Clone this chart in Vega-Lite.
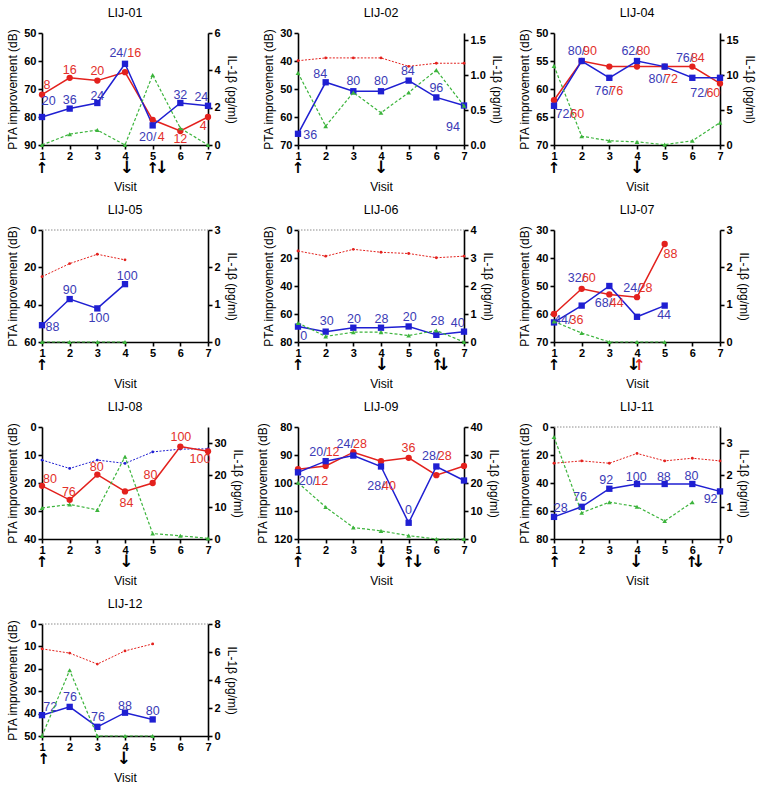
{
"$schema":"https://vega.github.io/schema/vega-lite/v6.json",
"background":"white",
"padding":{"left":6,"top":6,"right":5,"bottom":5},
"columns":3,
"spacing":{"row":85,"column":90},
"bounds":"flush",
"data":{"values":[
{"panel":"LIJ-01","kind":"pta","ear":"B","treated":"yes","visit":1,"pta":72},
{"panel":"LIJ-01","kind":"pta","ear":"B","treated":"yes","visit":2,"pta":66},
{"panel":"LIJ-01","kind":"pta","ear":"B","treated":"yes","visit":3,"pta":67},
{"panel":"LIJ-01","kind":"pta","ear":"B","treated":"yes","visit":4,"pta":64},
{"panel":"LIJ-01","kind":"pta","ear":"B","treated":"yes","visit":5,"pta":81},
{"panel":"LIJ-01","kind":"pta","ear":"B","treated":"yes","visit":6,"pta":85},
{"panel":"LIJ-01","kind":"pta","ear":"B","treated":"yes","visit":7,"pta":80},
{"panel":"LIJ-01","kind":"pta","ear":"A","treated":"yes","visit":1,"pta":80},
{"panel":"LIJ-01","kind":"pta","ear":"A","treated":"yes","visit":2,"pta":77},
{"panel":"LIJ-01","kind":"pta","ear":"A","treated":"yes","visit":3,"pta":75},
{"panel":"LIJ-01","kind":"pta","ear":"A","treated":"yes","visit":4,"pta":61},
{"panel":"LIJ-01","kind":"pta","ear":"A","treated":"yes","visit":5,"pta":83},
{"panel":"LIJ-01","kind":"pta","ear":"A","treated":"yes","visit":6,"pta":75},
{"panel":"LIJ-01","kind":"pta","ear":"A","treated":"yes","visit":7,"pta":76},
{"panel":"LIJ-01","kind":"il","visit":1,"il":0},
{"panel":"LIJ-01","kind":"il","visit":2,"il":0.58},
{"panel":"LIJ-01","kind":"il","visit":3,"il":0.8},
{"panel":"LIJ-01","kind":"il","visit":4,"il":0},
{"panel":"LIJ-01","kind":"il","visit":5,"il":3.75},
{"panel":"LIJ-01","kind":"il","visit":6,"il":0.9},
{"panel":"LIJ-01","kind":"il","visit":7,"il":0},
{"panel":"LIJ-01","kind":"label","ear":"A","visit":1.24,"pta":74.2,"text":"20"},
{"panel":"LIJ-01","kind":"label","ear":"B","visit":1.18,"pta":68.5,"text":"8"},
{"panel":"LIJ-01","kind":"label","ear":"B","visit":2.0,"pta":63.2,"text":"16"},
{"panel":"LIJ-01","kind":"label","ear":"A","visit":2.0,"pta":73.8,"text":"36"},
{"panel":"LIJ-01","kind":"label","ear":"B","visit":3.0,"pta":63.5,"text":"20"},
{"panel":"LIJ-01","kind":"label","ear":"A","visit":3.0,"pta":72.5,"text":"24"},
{"panel":"LIJ-01","kind":"label","ear":"A","visit":3.75,"pta":57.3,"text":"24/"},
{"panel":"LIJ-01","kind":"label","ear":"B","visit":4.33,"pta":57.3,"text":"16"},
{"panel":"LIJ-01","kind":"label","ear":"A","visit":4.82,"pta":87.1,"text":"20/"},
{"panel":"LIJ-01","kind":"label","ear":"B","visit":5.31,"pta":87.1,"text":"4"},
{"panel":"LIJ-01","kind":"label","ear":"B","visit":6.0,"pta":87.7,"text":"12"},
{"panel":"LIJ-01","kind":"label","ear":"A","visit":6.0,"pta":72.2,"text":"32"},
{"panel":"LIJ-01","kind":"label","ear":"A","visit":6.76,"pta":72.8,"text":"24"},
{"panel":"LIJ-01","kind":"label","ear":"B","visit":6.83,"pta":83.1,"text":"4"},
{"panel":"LIJ-01","kind":"arrow","ear":"K","visit":1,"il":0,"arrow":"↑"},
{"panel":"LIJ-01","kind":"arrow","ear":"K","visit":4.07,"il":0,"arrow":"↓"},
{"panel":"LIJ-01","kind":"arrow","ear":"K","visit":5,"il":0,"arrow":"↑"},
{"panel":"LIJ-01","kind":"arrow","ear":"K","visit":5.33,"il":0,"arrow":"↓"},
{"panel":"LIJ-02","kind":"pta","ear":"A","treated":"yes","visit":1,"pta":66},
{"panel":"LIJ-02","kind":"pta","ear":"A","treated":"yes","visit":2,"pta":47.6},
{"panel":"LIJ-02","kind":"pta","ear":"A","treated":"yes","visit":3,"pta":50.8},
{"panel":"LIJ-02","kind":"pta","ear":"A","treated":"yes","visit":4,"pta":50.8},
{"panel":"LIJ-02","kind":"pta","ear":"A","treated":"yes","visit":5,"pta":47},
{"panel":"LIJ-02","kind":"pta","ear":"A","treated":"yes","visit":6,"pta":53},
{"panel":"LIJ-02","kind":"pta","ear":"A","treated":"yes","visit":7,"pta":55.9},
{"panel":"LIJ-02","kind":"pta","ear":"B","treated":"no","visit":1,"pta":39.9},
{"panel":"LIJ-02","kind":"pta","ear":"B","treated":"no","visit":2,"pta":38.9},
{"panel":"LIJ-02","kind":"pta","ear":"B","treated":"no","visit":3,"pta":38.9},
{"panel":"LIJ-02","kind":"pta","ear":"B","treated":"no","visit":4,"pta":38.9},
{"panel":"LIJ-02","kind":"pta","ear":"B","treated":"no","visit":5,"pta":41.9},
{"panel":"LIJ-02","kind":"pta","ear":"B","treated":"no","visit":6,"pta":40.8},
{"panel":"LIJ-02","kind":"pta","ear":"B","treated":"no","visit":7,"pta":40.8},
{"panel":"LIJ-02","kind":"il","visit":1,"il":1.03},
{"panel":"LIJ-02","kind":"il","visit":2,"il":0.27},
{"panel":"LIJ-02","kind":"il","visit":3,"il":0.75},
{"panel":"LIJ-02","kind":"il","visit":4,"il":0.46},
{"panel":"LIJ-02","kind":"il","visit":5,"il":0.75},
{"panel":"LIJ-02","kind":"il","visit":6,"il":1.07},
{"panel":"LIJ-02","kind":"il","visit":7,"il":0.56},
{"panel":"LIJ-02","kind":"label","ear":"A","visit":1.44,"pta":66.5,"text":"36"},
{"panel":"LIJ-02","kind":"label","ear":"A","visit":1.8,"pta":44.5,"text":"84"},
{"panel":"LIJ-02","kind":"label","ear":"A","visit":3.0,"pta":47.1,"text":"80"},
{"panel":"LIJ-02","kind":"label","ear":"A","visit":4.0,"pta":47.1,"text":"80"},
{"panel":"LIJ-02","kind":"label","ear":"A","visit":4.97,"pta":43.6,"text":"84"},
{"panel":"LIJ-02","kind":"label","ear":"A","visit":6.0,"pta":49.6,"text":"96"},
{"panel":"LIJ-02","kind":"label","ear":"A","visit":6.6,"pta":63.7,"text":"94"},
{"panel":"LIJ-02","kind":"arrow","ear":"K","visit":1,"il":0,"arrow":"↑"},
{"panel":"LIJ-02","kind":"arrow","ear":"K","visit":4,"il":0,"arrow":"↓"},
{"panel":"LIJ-04","kind":"pta","ear":"B","treated":"yes","visit":1,"pta":62},
{"panel":"LIJ-04","kind":"pta","ear":"B","treated":"yes","visit":2,"pta":55},
{"panel":"LIJ-04","kind":"pta","ear":"B","treated":"yes","visit":3,"pta":56},
{"panel":"LIJ-04","kind":"pta","ear":"B","treated":"yes","visit":4,"pta":56},
{"panel":"LIJ-04","kind":"pta","ear":"B","treated":"yes","visit":5,"pta":56},
{"panel":"LIJ-04","kind":"pta","ear":"B","treated":"yes","visit":6,"pta":56},
{"panel":"LIJ-04","kind":"pta","ear":"B","treated":"yes","visit":7,"pta":59},
{"panel":"LIJ-04","kind":"pta","ear":"A","treated":"yes","visit":1,"pta":63},
{"panel":"LIJ-04","kind":"pta","ear":"A","treated":"yes","visit":2,"pta":55},
{"panel":"LIJ-04","kind":"pta","ear":"A","treated":"yes","visit":3,"pta":58},
{"panel":"LIJ-04","kind":"pta","ear":"A","treated":"yes","visit":4,"pta":55},
{"panel":"LIJ-04","kind":"pta","ear":"A","treated":"yes","visit":5,"pta":56},
{"panel":"LIJ-04","kind":"pta","ear":"A","treated":"yes","visit":6,"pta":58},
{"panel":"LIJ-04","kind":"pta","ear":"A","treated":"yes","visit":7,"pta":58},
{"panel":"LIJ-04","kind":"il","visit":1,"il":11.3},
{"panel":"LIJ-04","kind":"il","visit":2,"il":1.25},
{"panel":"LIJ-04","kind":"il","visit":3,"il":0.6},
{"panel":"LIJ-04","kind":"il","visit":4,"il":0.45},
{"panel":"LIJ-04","kind":"il","visit":5,"il":0.05},
{"panel":"LIJ-04","kind":"il","visit":6,"il":0.6},
{"panel":"LIJ-04","kind":"il","visit":7,"il":3.2},
{"panel":"LIJ-04","kind":"label","ear":"A","visit":1.37,"pta":64.5,"text":"72/"},
{"panel":"LIJ-04","kind":"label","ear":"B","visit":1.84,"pta":64.5,"text":"60"},
{"panel":"LIJ-04","kind":"label","ear":"A","visit":1.81,"pta":53.2,"text":"80/"},
{"panel":"LIJ-04","kind":"label","ear":"B","visit":2.3,"pta":53.2,"text":"90"},
{"panel":"LIJ-04","kind":"label","ear":"A","visit":2.78,"pta":60.3,"text":"76/"},
{"panel":"LIJ-04","kind":"label","ear":"B","visit":3.25,"pta":60.3,"text":"76"},
{"panel":"LIJ-04","kind":"label","ear":"A","visit":3.75,"pta":53.2,"text":"62/"},
{"panel":"LIJ-04","kind":"label","ear":"B","visit":4.23,"pta":53.2,"text":"80"},
{"panel":"LIJ-04","kind":"label","ear":"A","visit":4.73,"pta":58.2,"text":"80/"},
{"panel":"LIJ-04","kind":"label","ear":"B","visit":5.23,"pta":58.2,"text":"72"},
{"panel":"LIJ-04","kind":"label","ear":"A","visit":5.72,"pta":54.4,"text":"76/"},
{"panel":"LIJ-04","kind":"label","ear":"B","visit":6.2,"pta":54.4,"text":"84"},
{"panel":"LIJ-04","kind":"label","ear":"A","visit":6.24,"pta":60.8,"text":"72/"},
{"panel":"LIJ-04","kind":"label","ear":"B","visit":6.76,"pta":60.8,"text":"60"},
{"panel":"LIJ-04","kind":"arrow","ear":"K","visit":1,"il":0,"arrow":"↑"},
{"panel":"LIJ-04","kind":"arrow","ear":"K","visit":4,"il":0,"arrow":"↓"},
{"panel":"LIJ-05","kind":"ref","visit":1,"pta":0},
{"panel":"LIJ-05","kind":"ref","visit":7,"pta":0},
{"panel":"LIJ-05","kind":"pta","ear":"A","treated":"yes","visit":1,"pta":51},
{"panel":"LIJ-05","kind":"pta","ear":"A","treated":"yes","visit":2,"pta":37},
{"panel":"LIJ-05","kind":"pta","ear":"A","treated":"yes","visit":3,"pta":42},
{"panel":"LIJ-05","kind":"pta","ear":"A","treated":"yes","visit":4,"pta":29},
{"panel":"LIJ-05","kind":"pta","ear":"B","treated":"no","visit":1,"pta":25},
{"panel":"LIJ-05","kind":"pta","ear":"B","treated":"no","visit":2,"pta":18},
{"panel":"LIJ-05","kind":"pta","ear":"B","treated":"no","visit":3,"pta":13},
{"panel":"LIJ-05","kind":"pta","ear":"B","treated":"no","visit":4,"pta":16},
{"panel":"LIJ-05","kind":"il","visit":1,"il":0},
{"panel":"LIJ-05","kind":"il","visit":2,"il":0},
{"panel":"LIJ-05","kind":"il","visit":3,"il":0},
{"panel":"LIJ-05","kind":"il","visit":4,"il":0},
{"panel":"LIJ-05","kind":"label","ear":"A","visit":1.38,"pta":51.7,"text":"88"},
{"panel":"LIJ-05","kind":"label","ear":"A","visit":2.0,"pta":32,"text":"90"},
{"panel":"LIJ-05","kind":"label","ear":"A","visit":3.06,"pta":47.2,"text":"100"},
{"panel":"LIJ-05","kind":"label","ear":"A","visit":4.08,"pta":24.5,"text":"100"},
{"panel":"LIJ-05","kind":"arrow","ear":"K","visit":1,"il":0,"arrow":"↑"},
{"panel":"LIJ-06","kind":"ref","visit":1,"pta":0},
{"panel":"LIJ-06","kind":"ref","visit":7,"pta":0},
{"panel":"LIJ-06","kind":"pta","ear":"A","treated":"yes","visit":1,"pta":69},
{"panel":"LIJ-06","kind":"pta","ear":"A","treated":"yes","visit":2,"pta":72.6},
{"panel":"LIJ-06","kind":"pta","ear":"A","treated":"yes","visit":3,"pta":69.8},
{"panel":"LIJ-06","kind":"pta","ear":"A","treated":"yes","visit":4,"pta":69.8},
{"panel":"LIJ-06","kind":"pta","ear":"A","treated":"yes","visit":5,"pta":68.9},
{"panel":"LIJ-06","kind":"pta","ear":"A","treated":"yes","visit":6,"pta":74.9},
{"panel":"LIJ-06","kind":"pta","ear":"A","treated":"yes","visit":7,"pta":72.6},
{"panel":"LIJ-06","kind":"pta","ear":"B","treated":"no","visit":1,"pta":15},
{"panel":"LIJ-06","kind":"pta","ear":"B","treated":"no","visit":2,"pta":18.7},
{"panel":"LIJ-06","kind":"pta","ear":"B","treated":"no","visit":3,"pta":13.8},
{"panel":"LIJ-06","kind":"pta","ear":"B","treated":"no","visit":4,"pta":15.9},
{"panel":"LIJ-06","kind":"pta","ear":"B","treated":"no","visit":5,"pta":16.8},
{"panel":"LIJ-06","kind":"pta","ear":"B","treated":"no","visit":6,"pta":19.8},
{"panel":"LIJ-06","kind":"pta","ear":"B","treated":"no","visit":7,"pta":18.7},
{"panel":"LIJ-06","kind":"il","visit":1,"il":0.68},
{"panel":"LIJ-06","kind":"il","visit":2,"il":0.2},
{"panel":"LIJ-06","kind":"il","visit":3,"il":0.35},
{"panel":"LIJ-06","kind":"il","visit":4,"il":0.35},
{"panel":"LIJ-06","kind":"il","visit":5,"il":0.23},
{"panel":"LIJ-06","kind":"il","visit":6,"il":0.41},
{"panel":"LIJ-06","kind":"il","visit":7,"il":0},
{"panel":"LIJ-06","kind":"label","ear":"A","visit":1.21,"pta":75.6,"text":"0"},
{"panel":"LIJ-06","kind":"label","ear":"A","visit":2.04,"pta":65.2,"text":"30"},
{"panel":"LIJ-06","kind":"label","ear":"A","visit":3.02,"pta":63.4,"text":"20"},
{"panel":"LIJ-06","kind":"label","ear":"A","visit":4.02,"pta":63.4,"text":"28"},
{"panel":"LIJ-06","kind":"label","ear":"A","visit":5.04,"pta":61.8,"text":"20"},
{"panel":"LIJ-06","kind":"label","ear":"A","visit":6.04,"pta":65,"text":"28"},
{"panel":"LIJ-06","kind":"label","ear":"A","visit":6.77,"pta":66.1,"text":"40"},
{"panel":"LIJ-06","kind":"arrow","ear":"K","visit":1,"il":0,"arrow":"↑"},
{"panel":"LIJ-06","kind":"arrow","ear":"K","visit":4.03,"il":0,"arrow":"↓"},
{"panel":"LIJ-06","kind":"arrow","ear":"K","visit":6.04,"il":0,"arrow":"↑"},
{"panel":"LIJ-06","kind":"arrow","ear":"K","visit":6.27,"il":0,"arrow":"↓"},
{"panel":"LIJ-07","kind":"pta","ear":"B","treated":"yes","visit":1,"pta":60},
{"panel":"LIJ-07","kind":"pta","ear":"B","treated":"yes","visit":2,"pta":51},
{"panel":"LIJ-07","kind":"pta","ear":"B","treated":"yes","visit":3,"pta":53},
{"panel":"LIJ-07","kind":"pta","ear":"B","treated":"yes","visit":4,"pta":54},
{"panel":"LIJ-07","kind":"pta","ear":"B","treated":"yes","visit":5,"pta":35},
{"panel":"LIJ-07","kind":"pta","ear":"A","treated":"yes","visit":1,"pta":63},
{"panel":"LIJ-07","kind":"pta","ear":"A","treated":"yes","visit":2,"pta":57},
{"panel":"LIJ-07","kind":"pta","ear":"A","treated":"yes","visit":3,"pta":50},
{"panel":"LIJ-07","kind":"pta","ear":"A","treated":"yes","visit":4,"pta":61},
{"panel":"LIJ-07","kind":"pta","ear":"A","treated":"yes","visit":5,"pta":57},
{"panel":"LIJ-07","kind":"il","visit":1,"il":0.55},
{"panel":"LIJ-07","kind":"il","visit":2,"il":0.24},
{"panel":"LIJ-07","kind":"il","visit":3,"il":0},
{"panel":"LIJ-07","kind":"il","visit":4,"il":0},
{"panel":"LIJ-07","kind":"il","visit":5,"il":0},
{"panel":"LIJ-07","kind":"label","ear":"A","visit":1.32,"pta":62.3,"text":"44/"},
{"panel":"LIJ-07","kind":"label","ear":"B","visit":1.81,"pta":62.3,"text":"36"},
{"panel":"LIJ-07","kind":"label","ear":"A","visit":1.81,"pta":47.3,"text":"32/"},
{"panel":"LIJ-07","kind":"label","ear":"B","visit":2.26,"pta":47.3,"text":"60"},
{"panel":"LIJ-07","kind":"label","ear":"A","visit":2.79,"pta":56.2,"text":"68/"},
{"panel":"LIJ-07","kind":"label","ear":"B","visit":3.27,"pta":56.2,"text":"44"},
{"panel":"LIJ-07","kind":"label","ear":"A","visit":3.82,"pta":50.8,"text":"24/"},
{"panel":"LIJ-07","kind":"label","ear":"B","visit":4.31,"pta":50.8,"text":"28"},
{"panel":"LIJ-07","kind":"label","ear":"B","visit":5.21,"pta":38.6,"text":"88"},
{"panel":"LIJ-07","kind":"label","ear":"A","visit":4.98,"pta":60.5,"text":"44"},
{"panel":"LIJ-07","kind":"arrow","ear":"K","visit":1,"il":0,"arrow":"↑"},
{"panel":"LIJ-07","kind":"arrow","ear":"K","visit":3.88,"il":0,"arrow":"↓"},
{"panel":"LIJ-07","kind":"arrow","ear":"B","visit":4.08,"il":0,"arrow":"↑"},
{"panel":"LIJ-08","kind":"pta","ear":"A","treated":"no","visit":1,"pta":11.8},
{"panel":"LIJ-08","kind":"pta","ear":"A","treated":"no","visit":2,"pta":14.8},
{"panel":"LIJ-08","kind":"pta","ear":"A","treated":"no","visit":3,"pta":11.8},
{"panel":"LIJ-08","kind":"pta","ear":"A","treated":"no","visit":4,"pta":13},
{"panel":"LIJ-08","kind":"pta","ear":"A","treated":"no","visit":5,"pta":8.9},
{"panel":"LIJ-08","kind":"pta","ear":"A","treated":"no","visit":6,"pta":7.9},
{"panel":"LIJ-08","kind":"pta","ear":"A","treated":"no","visit":7,"pta":7.8},
{"panel":"LIJ-08","kind":"pta","ear":"B","treated":"yes","visit":1,"pta":21},
{"panel":"LIJ-08","kind":"pta","ear":"B","treated":"yes","visit":2,"pta":26},
{"panel":"LIJ-08","kind":"pta","ear":"B","treated":"yes","visit":3,"pta":17},
{"panel":"LIJ-08","kind":"pta","ear":"B","treated":"yes","visit":4,"pta":23},
{"panel":"LIJ-08","kind":"pta","ear":"B","treated":"yes","visit":5,"pta":20},
{"panel":"LIJ-08","kind":"pta","ear":"B","treated":"yes","visit":6,"pta":7},
{"panel":"LIJ-08","kind":"pta","ear":"B","treated":"yes","visit":7,"pta":8.7},
{"panel":"LIJ-08","kind":"il","visit":1,"il":9.7},
{"panel":"LIJ-08","kind":"il","visit":2,"il":10.8},
{"panel":"LIJ-08","kind":"il","visit":3,"il":9.1},
{"panel":"LIJ-08","kind":"il","visit":4,"il":25.7},
{"panel":"LIJ-08","kind":"il","visit":5,"il":1.7},
{"panel":"LIJ-08","kind":"il","visit":6,"il":1.0},
{"panel":"LIJ-08","kind":"il","visit":7,"il":0.2},
{"panel":"LIJ-08","kind":"label","ear":"B","visit":1.29,"pta":18.6,"text":"80"},
{"panel":"LIJ-08","kind":"label","ear":"B","visit":1.97,"pta":23.2,"text":"76"},
{"panel":"LIJ-08","kind":"label","ear":"B","visit":2.98,"pta":14.3,"text":"80"},
{"panel":"LIJ-08","kind":"label","ear":"B","visit":4.05,"pta":27.2,"text":"84"},
{"panel":"LIJ-08","kind":"label","ear":"B","visit":4.92,"pta":17.1,"text":"80"},
{"panel":"LIJ-08","kind":"label","ear":"B","visit":6.02,"pta":3.7,"text":"100"},
{"panel":"LIJ-08","kind":"label","ear":"B","visit":6.71,"pta":11.6,"text":"100"},
{"panel":"LIJ-08","kind":"arrow","ear":"K","visit":1,"il":0,"arrow":"↑"},
{"panel":"LIJ-08","kind":"arrow","ear":"K","visit":4.05,"il":0,"arrow":"↓"},
{"panel":"LIJ-09","kind":"pta","ear":"B","treated":"yes","visit":1,"pta":95.1},
{"panel":"LIJ-09","kind":"pta","ear":"B","treated":"yes","visit":2,"pta":93.9},
{"panel":"LIJ-09","kind":"pta","ear":"B","treated":"yes","visit":3,"pta":89},
{"panel":"LIJ-09","kind":"pta","ear":"B","treated":"yes","visit":4,"pta":92.2},
{"panel":"LIJ-09","kind":"pta","ear":"B","treated":"yes","visit":5,"pta":91},
{"panel":"LIJ-09","kind":"pta","ear":"B","treated":"yes","visit":6,"pta":97.2},
{"panel":"LIJ-09","kind":"pta","ear":"B","treated":"yes","visit":7,"pta":93.9},
{"panel":"LIJ-09","kind":"pta","ear":"A","treated":"yes","visit":1,"pta":96.2},
{"panel":"LIJ-09","kind":"pta","ear":"A","treated":"yes","visit":2,"pta":92.2},
{"panel":"LIJ-09","kind":"pta","ear":"A","treated":"yes","visit":3,"pta":90.2},
{"panel":"LIJ-09","kind":"pta","ear":"A","treated":"yes","visit":4,"pta":94.1},
{"panel":"LIJ-09","kind":"pta","ear":"A","treated":"yes","visit":5,"pta":114.2},
{"panel":"LIJ-09","kind":"pta","ear":"A","treated":"yes","visit":6,"pta":94.1},
{"panel":"LIJ-09","kind":"pta","ear":"A","treated":"yes","visit":7,"pta":99.1},
{"panel":"LIJ-09","kind":"il","visit":1,"il":20.1},
{"panel":"LIJ-09","kind":"il","visit":2,"il":11.4},
{"panel":"LIJ-09","kind":"il","visit":3,"il":4.1},
{"panel":"LIJ-09","kind":"il","visit":4,"il":2.9},
{"panel":"LIJ-09","kind":"il","visit":5,"il":1.2},
{"panel":"LIJ-09","kind":"il","visit":6,"il":0},
{"panel":"LIJ-09","kind":"il","visit":7,"il":0},
{"panel":"LIJ-09","kind":"label","ear":"A","visit":1.72,"pta":88.9,"text":"20/"},
{"panel":"LIJ-09","kind":"label","ear":"B","visit":2.25,"pta":88.9,"text":"12"},
{"panel":"LIJ-09","kind":"label","ear":"A","visit":2.71,"pta":86,"text":"24/"},
{"panel":"LIJ-09","kind":"label","ear":"B","visit":3.24,"pta":86,"text":"28"},
{"panel":"LIJ-09","kind":"label","ear":"A","visit":1.34,"pta":99.4,"text":"20/"},
{"panel":"LIJ-09","kind":"label","ear":"B","visit":1.84,"pta":99.4,"text":"12"},
{"panel":"LIJ-09","kind":"label","ear":"A","visit":3.82,"pta":101.1,"text":"28/"},
{"panel":"LIJ-09","kind":"label","ear":"B","visit":4.29,"pta":101.1,"text":"40"},
{"panel":"LIJ-09","kind":"label","ear":"B","visit":4.99,"pta":87.5,"text":"36"},
{"panel":"LIJ-09","kind":"label","ear":"A","visit":4.99,"pta":109.6,"text":"0"},
{"panel":"LIJ-09","kind":"label","ear":"A","visit":5.8,"pta":90.4,"text":"28/"},
{"panel":"LIJ-09","kind":"label","ear":"B","visit":6.3,"pta":90.4,"text":"28"},
{"panel":"LIJ-09","kind":"arrow","ear":"K","visit":1,"il":0,"arrow":"↑"},
{"panel":"LIJ-09","kind":"arrow","ear":"K","visit":4,"il":0,"arrow":"↓"},
{"panel":"LIJ-09","kind":"arrow","ear":"K","visit":5,"il":0,"arrow":"↑"},
{"panel":"LIJ-09","kind":"arrow","ear":"K","visit":5.32,"il":0,"arrow":"↓"},
{"panel":"LIJ-11","kind":"ref","visit":1,"pta":0},
{"panel":"LIJ-11","kind":"ref","visit":7,"pta":0},
{"panel":"LIJ-11","kind":"pta","ear":"A","treated":"yes","visit":1,"pta":64.2},
{"panel":"LIJ-11","kind":"pta","ear":"A","treated":"yes","visit":2,"pta":57},
{"panel":"LIJ-11","kind":"pta","ear":"A","treated":"yes","visit":3,"pta":44.1},
{"panel":"LIJ-11","kind":"pta","ear":"A","treated":"yes","visit":4,"pta":40.7},
{"panel":"LIJ-11","kind":"pta","ear":"A","treated":"yes","visit":5,"pta":40.7},
{"panel":"LIJ-11","kind":"pta","ear":"A","treated":"yes","visit":6,"pta":40.7},
{"panel":"LIJ-11","kind":"pta","ear":"A","treated":"yes","visit":7,"pta":46},
{"panel":"LIJ-11","kind":"pta","ear":"B","treated":"no","visit":1,"pta":25.9},
{"panel":"LIJ-11","kind":"pta","ear":"B","treated":"no","visit":2,"pta":24.2},
{"panel":"LIJ-11","kind":"pta","ear":"B","treated":"no","visit":3,"pta":25.9},
{"panel":"LIJ-11","kind":"pta","ear":"B","treated":"no","visit":4,"pta":18.9},
{"panel":"LIJ-11","kind":"pta","ear":"B","treated":"no","visit":5,"pta":24.2},
{"panel":"LIJ-11","kind":"pta","ear":"B","treated":"no","visit":6,"pta":22.3},
{"panel":"LIJ-11","kind":"pta","ear":"B","treated":"no","visit":7,"pta":24.2},
{"panel":"LIJ-11","kind":"il","visit":1,"il":3.19},
{"panel":"LIJ-11","kind":"il","visit":2,"il":0.82},
{"panel":"LIJ-11","kind":"il","visit":3,"il":1.15},
{"panel":"LIJ-11","kind":"il","visit":4,"il":1.01},
{"panel":"LIJ-11","kind":"il","visit":5,"il":0.56},
{"panel":"LIJ-11","kind":"il","visit":6,"il":1.15},
{"panel":"LIJ-11","kind":"label","ear":"A","visit":1.24,"pta":57.5,"text":"28"},
{"panel":"LIJ-11","kind":"label","ear":"A","visit":1.94,"pta":50.2,"text":"76"},
{"panel":"LIJ-11","kind":"label","ear":"A","visit":2.89,"pta":38.1,"text":"92"},
{"panel":"LIJ-11","kind":"label","ear":"A","visit":3.97,"pta":35.6,"text":"100"},
{"panel":"LIJ-11","kind":"label","ear":"A","visit":4.97,"pta":35.6,"text":"88"},
{"panel":"LIJ-11","kind":"label","ear":"A","visit":5.97,"pta":34.7,"text":"80"},
{"panel":"LIJ-11","kind":"label","ear":"A","visit":6.66,"pta":51.6,"text":"92"},
{"panel":"LIJ-11","kind":"arrow","ear":"K","visit":1.03,"il":0,"arrow":"↑"},
{"panel":"LIJ-11","kind":"arrow","ear":"K","visit":3.97,"il":0,"arrow":"↓"},
{"panel":"LIJ-11","kind":"arrow","ear":"K","visit":5.98,"il":0,"arrow":"↑"},
{"panel":"LIJ-11","kind":"arrow","ear":"K","visit":6.22,"il":0,"arrow":"↓"},
{"panel":"LIJ-12","kind":"ref","visit":1,"pta":0},
{"panel":"LIJ-12","kind":"ref","visit":7,"pta":0},
{"panel":"LIJ-12","kind":"pta","ear":"A","treated":"yes","visit":1,"pta":40.7},
{"panel":"LIJ-12","kind":"pta","ear":"A","treated":"yes","visit":2,"pta":37},
{"panel":"LIJ-12","kind":"pta","ear":"A","treated":"yes","visit":3,"pta":45.9},
{"panel":"LIJ-12","kind":"pta","ear":"A","treated":"yes","visit":4,"pta":39.6},
{"panel":"LIJ-12","kind":"pta","ear":"A","treated":"yes","visit":5,"pta":42.6},
{"panel":"LIJ-12","kind":"pta","ear":"B","treated":"no","visit":1,"pta":11.1},
{"panel":"LIJ-12","kind":"pta","ear":"B","treated":"no","visit":2,"pta":13},
{"panel":"LIJ-12","kind":"pta","ear":"B","treated":"no","visit":3,"pta":17.9},
{"panel":"LIJ-12","kind":"pta","ear":"B","treated":"no","visit":4,"pta":12},
{"panel":"LIJ-12","kind":"pta","ear":"B","treated":"no","visit":5,"pta":8.9},
{"panel":"LIJ-12","kind":"il","visit":1,"il":0},
{"panel":"LIJ-12","kind":"il","visit":2,"il":4.69},
{"panel":"LIJ-12","kind":"il","visit":3,"il":0},
{"panel":"LIJ-12","kind":"il","visit":4,"il":0},
{"panel":"LIJ-12","kind":"il","visit":5,"il":0},
{"panel":"LIJ-12","kind":"label","ear":"A","visit":1.3,"pta":37,"text":"72"},
{"panel":"LIJ-12","kind":"label","ear":"A","visit":2.01,"pta":32.5,"text":"76"},
{"panel":"LIJ-12","kind":"label","ear":"A","visit":3.02,"pta":41.6,"text":"76"},
{"panel":"LIJ-12","kind":"label","ear":"A","visit":4.0,"pta":36.4,"text":"88"},
{"panel":"LIJ-12","kind":"label","ear":"A","visit":5.0,"pta":38.9,"text":"80"},
{"panel":"LIJ-12","kind":"arrow","ear":"K","visit":1.06,"il":0,"arrow":"↑"},
{"panel":"LIJ-12","kind":"arrow","ear":"K","visit":3.96,"il":0,"arrow":"↓"}
]},
"concat":[
{"title":"LIJ-01","width":166,"height":112,"transform":[{"filter":"datum.panel==='LIJ-01'"}],
"layer":[
{"encoding":{"x":{"field":"visit","type":"quantitative","scale":{"domain":[1,7],"nice":false,"zero":false},"axis":{"values":[1,2,3,4,5,6,7],"title":"Visit"}},
"y":{"field":"pta","type":"quantitative","scale":{"domain":[50,90],"reverse":true,"nice":false,"zero":false},"axis":{"values":[50,60,70,80,90],"title":"PTA improvement (dB)"}}},
"layer":[
{"transform":[{"filter":"datum.kind==='ref'"}],"mark":{"type":"line","color":"#8c8c8c","strokeDash":[1.5,1.5],"strokeWidth":1}},
{"transform":[{"filter":"datum.kind==='pta' && datum.treated==='no'"}],"mark":{"type":"line","strokeDash":[2,1.5],"strokeWidth":1},"encoding":{"color":{"field":"ear","type":"nominal","scale":{"domain":["A","B"],"range":["#1f1fd2","#e3211d"]},"legend":null}}},
{"transform":[{"filter":"datum.kind==='pta' && datum.treated==='no'"}],"mark":{"type":"circle","size":8,"opacity":1},"encoding":{"color":{"field":"ear","type":"nominal","scale":{"domain":["A","B"],"range":["#1f1fd2","#e3211d"]},"legend":null}}},
{"transform":[{"filter":"datum.kind==='pta' && datum.treated==='yes'"}],"mark":{"type":"line","strokeWidth":1.5},"encoding":{"color":{"field":"ear","type":"nominal","scale":{"domain":["A","B"],"range":["#1f1fd2","#e3211d"]},"legend":null}}},
{"transform":[{"filter":"datum.kind==='pta' && datum.treated==='yes'"}],"mark":{"type":"point","filled":true,"opacity":1,"size":40},"encoding":{"color":{"field":"ear","type":"nominal","scale":{"domain":["A","B"],"range":["#1f1fd2","#e3211d"]},"legend":null},"shape":{"field":"ear","type":"nominal","scale":{"domain":["A","B"],"range":["square","circle"]},"legend":null}}},
{"transform":[{"filter":"datum.kind==='label'"}],"mark":{"type":"text","fontSize":12.5},"encoding":{"text":{"field":"text"},"fill":{"field":"ear","type":"nominal","scale":{"domain":["A","B","K"],"range":["#3b3bb6","#e3302a","#000000"]},"legend":null}}}
]},
{"encoding":{"x":{"field":"visit","type":"quantitative","scale":{"domain":[1,7],"nice":false,"zero":false},"axis":{"values":[1,2,3,4,5,6,7],"title":"Visit"}},
"y":{"field":"il","type":"quantitative","scale":{"domain":[0,6],"nice":false},"axis":{"orient":"right","values":[0,2,4,6],"title":"IL-1β (pg/ml)"}}},
"layer":[
{"transform":[{"filter":"datum.kind==='il'"}],"mark":{"type":"line","color":"#3cb43c","strokeDash":[3,2],"strokeWidth":1.2}},
{"transform":[{"filter":"datum.kind==='il'"}],"mark":{"type":"point","shape":"triangle-up","filled":true,"color":"#3cb43c","size":22,"opacity":1}},
{"transform":[{"filter":"datum.kind==='arrow' && datum.arrow==='↑'"}],"mark":{"type":"text","fontSize":15,"font":"DejaVu Sans","fontWeight":"bold","baseline":"top","dy":16},"encoding":{"text":{"field":"arrow"},"fill":{"field":"ear","type":"nominal","scale":{"domain":["A","B","K"],"range":["#3b3bb6","#e3302a","#000000"]},"legend":null}}},
{"transform":[{"filter":"datum.kind==='arrow' && datum.arrow==='↓'"}],"mark":{"type":"text","fontSize":17,"font":"DejaVu Sans","fontWeight":"bold","baseline":"top","dy":15},"encoding":{"text":{"field":"arrow"},"fill":{"field":"ear","type":"nominal","scale":{"domain":["A","B","K"],"range":["#3b3bb6","#e3302a","#000000"]},"legend":null}}}
]}
],
"resolve":{"scale":{"y":"independent"}}},

{"title":"LIJ-02","width":166,"height":112,"transform":[{"filter":"datum.panel==='LIJ-02'"}],
"layer":[
{"encoding":{"x":{"field":"visit","type":"quantitative","scale":{"domain":[1,7],"nice":false,"zero":false},"axis":{"values":[1,2,3,4,5,6,7],"title":"Visit"}},
"y":{"field":"pta","type":"quantitative","scale":{"domain":[30,70],"reverse":true,"nice":false,"zero":false},"axis":{"values":[30,40,50,60,70],"title":"PTA improvement (dB)"}}},
"layer":[
{"transform":[{"filter":"datum.kind==='ref'"}],"mark":{"type":"line","color":"#8c8c8c","strokeDash":[1.5,1.5],"strokeWidth":1}},
{"transform":[{"filter":"datum.kind==='pta' && datum.treated==='no'"}],"mark":{"type":"line","strokeDash":[2,1.5],"strokeWidth":1},"encoding":{"color":{"field":"ear","type":"nominal","scale":{"domain":["A","B"],"range":["#1f1fd2","#e3211d"]},"legend":null}}},
{"transform":[{"filter":"datum.kind==='pta' && datum.treated==='no'"}],"mark":{"type":"circle","size":8,"opacity":1},"encoding":{"color":{"field":"ear","type":"nominal","scale":{"domain":["A","B"],"range":["#1f1fd2","#e3211d"]},"legend":null}}},
{"transform":[{"filter":"datum.kind==='pta' && datum.treated==='yes'"}],"mark":{"type":"line","strokeWidth":1.5},"encoding":{"color":{"field":"ear","type":"nominal","scale":{"domain":["A","B"],"range":["#1f1fd2","#e3211d"]},"legend":null}}},
{"transform":[{"filter":"datum.kind==='pta' && datum.treated==='yes'"}],"mark":{"type":"point","filled":true,"opacity":1,"size":40},"encoding":{"color":{"field":"ear","type":"nominal","scale":{"domain":["A","B"],"range":["#1f1fd2","#e3211d"]},"legend":null},"shape":{"field":"ear","type":"nominal","scale":{"domain":["A","B"],"range":["square","circle"]},"legend":null}}},
{"transform":[{"filter":"datum.kind==='label'"}],"mark":{"type":"text","fontSize":12.5},"encoding":{"text":{"field":"text"},"fill":{"field":"ear","type":"nominal","scale":{"domain":["A","B","K"],"range":["#3b3bb6","#e3302a","#000000"]},"legend":null}}}
]},
{"encoding":{"x":{"field":"visit","type":"quantitative","scale":{"domain":[1,7],"nice":false,"zero":false},"axis":{"values":[1,2,3,4,5,6,7],"title":"Visit"}},
"y":{"field":"il","type":"quantitative","scale":{"domain":[0,1.6],"nice":false},"axis":{"orient":"right","values":[0,0.5,1,1.5],"format":".1f","title":"IL-1β (pg/ml)"}}},
"layer":[
{"transform":[{"filter":"datum.kind==='il'"}],"mark":{"type":"line","color":"#3cb43c","strokeDash":[3,2],"strokeWidth":1.2}},
{"transform":[{"filter":"datum.kind==='il'"}],"mark":{"type":"point","shape":"triangle-up","filled":true,"color":"#3cb43c","size":22,"opacity":1}},
{"transform":[{"filter":"datum.kind==='arrow' && datum.arrow==='↑'"}],"mark":{"type":"text","fontSize":15,"font":"DejaVu Sans","fontWeight":"bold","baseline":"top","dy":16},"encoding":{"text":{"field":"arrow"},"fill":{"field":"ear","type":"nominal","scale":{"domain":["A","B","K"],"range":["#3b3bb6","#e3302a","#000000"]},"legend":null}}},
{"transform":[{"filter":"datum.kind==='arrow' && datum.arrow==='↓'"}],"mark":{"type":"text","fontSize":17,"font":"DejaVu Sans","fontWeight":"bold","baseline":"top","dy":15},"encoding":{"text":{"field":"arrow"},"fill":{"field":"ear","type":"nominal","scale":{"domain":["A","B","K"],"range":["#3b3bb6","#e3302a","#000000"]},"legend":null}}}
]}
],
"resolve":{"scale":{"y":"independent"}}},

{"title":"LIJ-04","width":166,"height":112,"transform":[{"filter":"datum.panel==='LIJ-04'"}],
"layer":[
{"encoding":{"x":{"field":"visit","type":"quantitative","scale":{"domain":[1,7],"nice":false,"zero":false},"axis":{"values":[1,2,3,4,5,6,7],"title":"Visit"}},
"y":{"field":"pta","type":"quantitative","scale":{"domain":[50,70],"reverse":true,"nice":false,"zero":false},"axis":{"values":[50,55,60,65,70],"title":"PTA improvement (dB)"}}},
"layer":[
{"transform":[{"filter":"datum.kind==='ref'"}],"mark":{"type":"line","color":"#8c8c8c","strokeDash":[1.5,1.5],"strokeWidth":1}},
{"transform":[{"filter":"datum.kind==='pta' && datum.treated==='no'"}],"mark":{"type":"line","strokeDash":[2,1.5],"strokeWidth":1},"encoding":{"color":{"field":"ear","type":"nominal","scale":{"domain":["A","B"],"range":["#1f1fd2","#e3211d"]},"legend":null}}},
{"transform":[{"filter":"datum.kind==='pta' && datum.treated==='no'"}],"mark":{"type":"circle","size":8,"opacity":1},"encoding":{"color":{"field":"ear","type":"nominal","scale":{"domain":["A","B"],"range":["#1f1fd2","#e3211d"]},"legend":null}}},
{"transform":[{"filter":"datum.kind==='pta' && datum.treated==='yes'"}],"mark":{"type":"line","strokeWidth":1.5},"encoding":{"color":{"field":"ear","type":"nominal","scale":{"domain":["A","B"],"range":["#1f1fd2","#e3211d"]},"legend":null}}},
{"transform":[{"filter":"datum.kind==='pta' && datum.treated==='yes'"}],"mark":{"type":"point","filled":true,"opacity":1,"size":40},"encoding":{"color":{"field":"ear","type":"nominal","scale":{"domain":["A","B"],"range":["#1f1fd2","#e3211d"]},"legend":null},"shape":{"field":"ear","type":"nominal","scale":{"domain":["A","B"],"range":["square","circle"]},"legend":null}}},
{"transform":[{"filter":"datum.kind==='label'"}],"mark":{"type":"text","fontSize":12.5},"encoding":{"text":{"field":"text"},"fill":{"field":"ear","type":"nominal","scale":{"domain":["A","B","K"],"range":["#3b3bb6","#e3302a","#000000"]},"legend":null}}}
]},
{"encoding":{"x":{"field":"visit","type":"quantitative","scale":{"domain":[1,7],"nice":false,"zero":false},"axis":{"values":[1,2,3,4,5,6,7],"title":"Visit"}},
"y":{"field":"il","type":"quantitative","scale":{"domain":[0,16],"nice":false},"axis":{"orient":"right","values":[0,5,10,15],"title":"IL-1β (pg/ml)"}}},
"layer":[
{"transform":[{"filter":"datum.kind==='il'"}],"mark":{"type":"line","color":"#3cb43c","strokeDash":[3,2],"strokeWidth":1.2}},
{"transform":[{"filter":"datum.kind==='il'"}],"mark":{"type":"point","shape":"triangle-up","filled":true,"color":"#3cb43c","size":22,"opacity":1}},
{"transform":[{"filter":"datum.kind==='arrow' && datum.arrow==='↑'"}],"mark":{"type":"text","fontSize":15,"font":"DejaVu Sans","fontWeight":"bold","baseline":"top","dy":16},"encoding":{"text":{"field":"arrow"},"fill":{"field":"ear","type":"nominal","scale":{"domain":["A","B","K"],"range":["#3b3bb6","#e3302a","#000000"]},"legend":null}}},
{"transform":[{"filter":"datum.kind==='arrow' && datum.arrow==='↓'"}],"mark":{"type":"text","fontSize":17,"font":"DejaVu Sans","fontWeight":"bold","baseline":"top","dy":15},"encoding":{"text":{"field":"arrow"},"fill":{"field":"ear","type":"nominal","scale":{"domain":["A","B","K"],"range":["#3b3bb6","#e3302a","#000000"]},"legend":null}}}
]}
],
"resolve":{"scale":{"y":"independent"}}},

{"title":"LIJ-05","width":166,"height":112,"transform":[{"filter":"datum.panel==='LIJ-05'"}],
"layer":[
{"encoding":{"x":{"field":"visit","type":"quantitative","scale":{"domain":[1,7],"nice":false,"zero":false},"axis":{"values":[1,2,3,4,5,6,7],"title":"Visit"}},
"y":{"field":"pta","type":"quantitative","scale":{"domain":[0,60],"reverse":true,"nice":false,"zero":false},"axis":{"values":[0,20,40,60],"title":"PTA improvement (dB)"}}},
"layer":[
{"transform":[{"filter":"datum.kind==='ref'"}],"mark":{"type":"line","color":"#8c8c8c","strokeDash":[1.5,1.5],"strokeWidth":1}},
{"transform":[{"filter":"datum.kind==='pta' && datum.treated==='no'"}],"mark":{"type":"line","strokeDash":[2,1.5],"strokeWidth":1},"encoding":{"color":{"field":"ear","type":"nominal","scale":{"domain":["A","B"],"range":["#1f1fd2","#e3211d"]},"legend":null}}},
{"transform":[{"filter":"datum.kind==='pta' && datum.treated==='no'"}],"mark":{"type":"circle","size":8,"opacity":1},"encoding":{"color":{"field":"ear","type":"nominal","scale":{"domain":["A","B"],"range":["#1f1fd2","#e3211d"]},"legend":null}}},
{"transform":[{"filter":"datum.kind==='pta' && datum.treated==='yes'"}],"mark":{"type":"line","strokeWidth":1.5},"encoding":{"color":{"field":"ear","type":"nominal","scale":{"domain":["A","B"],"range":["#1f1fd2","#e3211d"]},"legend":null}}},
{"transform":[{"filter":"datum.kind==='pta' && datum.treated==='yes'"}],"mark":{"type":"point","filled":true,"opacity":1,"size":40},"encoding":{"color":{"field":"ear","type":"nominal","scale":{"domain":["A","B"],"range":["#1f1fd2","#e3211d"]},"legend":null},"shape":{"field":"ear","type":"nominal","scale":{"domain":["A","B"],"range":["square","circle"]},"legend":null}}},
{"transform":[{"filter":"datum.kind==='label'"}],"mark":{"type":"text","fontSize":12.5},"encoding":{"text":{"field":"text"},"fill":{"field":"ear","type":"nominal","scale":{"domain":["A","B","K"],"range":["#3b3bb6","#e3302a","#000000"]},"legend":null}}}
]},
{"encoding":{"x":{"field":"visit","type":"quantitative","scale":{"domain":[1,7],"nice":false,"zero":false},"axis":{"values":[1,2,3,4,5,6,7],"title":"Visit"}},
"y":{"field":"il","type":"quantitative","scale":{"domain":[0,3],"nice":false},"axis":{"orient":"right","values":[0,1,2,3],"title":"IL-1β (pg/ml)"}}},
"layer":[
{"transform":[{"filter":"datum.kind==='il'"}],"mark":{"type":"line","color":"#3cb43c","strokeDash":[3,2],"strokeWidth":1.2}},
{"transform":[{"filter":"datum.kind==='il'"}],"mark":{"type":"point","shape":"triangle-up","filled":true,"color":"#3cb43c","size":22,"opacity":1}},
{"transform":[{"filter":"datum.kind==='arrow' && datum.arrow==='↑'"}],"mark":{"type":"text","fontSize":15,"font":"DejaVu Sans","fontWeight":"bold","baseline":"top","dy":16},"encoding":{"text":{"field":"arrow"},"fill":{"field":"ear","type":"nominal","scale":{"domain":["A","B","K"],"range":["#3b3bb6","#e3302a","#000000"]},"legend":null}}},
{"transform":[{"filter":"datum.kind==='arrow' && datum.arrow==='↓'"}],"mark":{"type":"text","fontSize":17,"font":"DejaVu Sans","fontWeight":"bold","baseline":"top","dy":15},"encoding":{"text":{"field":"arrow"},"fill":{"field":"ear","type":"nominal","scale":{"domain":["A","B","K"],"range":["#3b3bb6","#e3302a","#000000"]},"legend":null}}}
]}
],
"resolve":{"scale":{"y":"independent"}}},

{"title":"LIJ-06","width":166,"height":112,"transform":[{"filter":"datum.panel==='LIJ-06'"}],
"layer":[
{"encoding":{"x":{"field":"visit","type":"quantitative","scale":{"domain":[1,7],"nice":false,"zero":false},"axis":{"values":[1,2,3,4,5,6,7],"title":"Visit"}},
"y":{"field":"pta","type":"quantitative","scale":{"domain":[0,80],"reverse":true,"nice":false,"zero":false},"axis":{"values":[0,20,40,60,80],"title":"PTA improvement (dB)"}}},
"layer":[
{"transform":[{"filter":"datum.kind==='ref'"}],"mark":{"type":"line","color":"#8c8c8c","strokeDash":[1.5,1.5],"strokeWidth":1}},
{"transform":[{"filter":"datum.kind==='pta' && datum.treated==='no'"}],"mark":{"type":"line","strokeDash":[2,1.5],"strokeWidth":1},"encoding":{"color":{"field":"ear","type":"nominal","scale":{"domain":["A","B"],"range":["#1f1fd2","#e3211d"]},"legend":null}}},
{"transform":[{"filter":"datum.kind==='pta' && datum.treated==='no'"}],"mark":{"type":"circle","size":8,"opacity":1},"encoding":{"color":{"field":"ear","type":"nominal","scale":{"domain":["A","B"],"range":["#1f1fd2","#e3211d"]},"legend":null}}},
{"transform":[{"filter":"datum.kind==='pta' && datum.treated==='yes'"}],"mark":{"type":"line","strokeWidth":1.5},"encoding":{"color":{"field":"ear","type":"nominal","scale":{"domain":["A","B"],"range":["#1f1fd2","#e3211d"]},"legend":null}}},
{"transform":[{"filter":"datum.kind==='pta' && datum.treated==='yes'"}],"mark":{"type":"point","filled":true,"opacity":1,"size":40},"encoding":{"color":{"field":"ear","type":"nominal","scale":{"domain":["A","B"],"range":["#1f1fd2","#e3211d"]},"legend":null},"shape":{"field":"ear","type":"nominal","scale":{"domain":["A","B"],"range":["square","circle"]},"legend":null}}},
{"transform":[{"filter":"datum.kind==='label'"}],"mark":{"type":"text","fontSize":12.5},"encoding":{"text":{"field":"text"},"fill":{"field":"ear","type":"nominal","scale":{"domain":["A","B","K"],"range":["#3b3bb6","#e3302a","#000000"]},"legend":null}}}
]},
{"encoding":{"x":{"field":"visit","type":"quantitative","scale":{"domain":[1,7],"nice":false,"zero":false},"axis":{"values":[1,2,3,4,5,6,7],"title":"Visit"}},
"y":{"field":"il","type":"quantitative","scale":{"domain":[0,4],"nice":false},"axis":{"orient":"right","values":[0,1,2,3,4],"title":"IL-1β (pg/ml)"}}},
"layer":[
{"transform":[{"filter":"datum.kind==='il'"}],"mark":{"type":"line","color":"#3cb43c","strokeDash":[3,2],"strokeWidth":1.2}},
{"transform":[{"filter":"datum.kind==='il'"}],"mark":{"type":"point","shape":"triangle-up","filled":true,"color":"#3cb43c","size":22,"opacity":1}},
{"transform":[{"filter":"datum.kind==='arrow' && datum.arrow==='↑'"}],"mark":{"type":"text","fontSize":15,"font":"DejaVu Sans","fontWeight":"bold","baseline":"top","dy":16},"encoding":{"text":{"field":"arrow"},"fill":{"field":"ear","type":"nominal","scale":{"domain":["A","B","K"],"range":["#3b3bb6","#e3302a","#000000"]},"legend":null}}},
{"transform":[{"filter":"datum.kind==='arrow' && datum.arrow==='↓'"}],"mark":{"type":"text","fontSize":17,"font":"DejaVu Sans","fontWeight":"bold","baseline":"top","dy":15},"encoding":{"text":{"field":"arrow"},"fill":{"field":"ear","type":"nominal","scale":{"domain":["A","B","K"],"range":["#3b3bb6","#e3302a","#000000"]},"legend":null}}}
]}
],
"resolve":{"scale":{"y":"independent"}}},

{"title":"LIJ-07","width":166,"height":112,"transform":[{"filter":"datum.panel==='LIJ-07'"}],
"layer":[
{"encoding":{"x":{"field":"visit","type":"quantitative","scale":{"domain":[1,7],"nice":false,"zero":false},"axis":{"values":[1,2,3,4,5,6,7],"title":"Visit"}},
"y":{"field":"pta","type":"quantitative","scale":{"domain":[30,70],"reverse":true,"nice":false,"zero":false},"axis":{"values":[30,40,50,60,70],"title":"PTA improvement (dB)"}}},
"layer":[
{"transform":[{"filter":"datum.kind==='ref'"}],"mark":{"type":"line","color":"#8c8c8c","strokeDash":[1.5,1.5],"strokeWidth":1}},
{"transform":[{"filter":"datum.kind==='pta' && datum.treated==='no'"}],"mark":{"type":"line","strokeDash":[2,1.5],"strokeWidth":1},"encoding":{"color":{"field":"ear","type":"nominal","scale":{"domain":["A","B"],"range":["#1f1fd2","#e3211d"]},"legend":null}}},
{"transform":[{"filter":"datum.kind==='pta' && datum.treated==='no'"}],"mark":{"type":"circle","size":8,"opacity":1},"encoding":{"color":{"field":"ear","type":"nominal","scale":{"domain":["A","B"],"range":["#1f1fd2","#e3211d"]},"legend":null}}},
{"transform":[{"filter":"datum.kind==='pta' && datum.treated==='yes'"}],"mark":{"type":"line","strokeWidth":1.5},"encoding":{"color":{"field":"ear","type":"nominal","scale":{"domain":["A","B"],"range":["#1f1fd2","#e3211d"]},"legend":null}}},
{"transform":[{"filter":"datum.kind==='pta' && datum.treated==='yes'"}],"mark":{"type":"point","filled":true,"opacity":1,"size":40},"encoding":{"color":{"field":"ear","type":"nominal","scale":{"domain":["A","B"],"range":["#1f1fd2","#e3211d"]},"legend":null},"shape":{"field":"ear","type":"nominal","scale":{"domain":["A","B"],"range":["square","circle"]},"legend":null}}},
{"transform":[{"filter":"datum.kind==='label'"}],"mark":{"type":"text","fontSize":12.5},"encoding":{"text":{"field":"text"},"fill":{"field":"ear","type":"nominal","scale":{"domain":["A","B","K"],"range":["#3b3bb6","#e3302a","#000000"]},"legend":null}}}
]},
{"encoding":{"x":{"field":"visit","type":"quantitative","scale":{"domain":[1,7],"nice":false,"zero":false},"axis":{"values":[1,2,3,4,5,6,7],"title":"Visit"}},
"y":{"field":"il","type":"quantitative","scale":{"domain":[0,3],"nice":false},"axis":{"orient":"right","values":[0,1,2,3],"title":"IL-1β (pg/ml)"}}},
"layer":[
{"transform":[{"filter":"datum.kind==='il'"}],"mark":{"type":"line","color":"#3cb43c","strokeDash":[3,2],"strokeWidth":1.2}},
{"transform":[{"filter":"datum.kind==='il'"}],"mark":{"type":"point","shape":"triangle-up","filled":true,"color":"#3cb43c","size":22,"opacity":1}},
{"transform":[{"filter":"datum.kind==='arrow' && datum.arrow==='↑'"}],"mark":{"type":"text","fontSize":15,"font":"DejaVu Sans","fontWeight":"bold","baseline":"top","dy":16},"encoding":{"text":{"field":"arrow"},"fill":{"field":"ear","type":"nominal","scale":{"domain":["A","B","K"],"range":["#3b3bb6","#e3302a","#000000"]},"legend":null}}},
{"transform":[{"filter":"datum.kind==='arrow' && datum.arrow==='↓'"}],"mark":{"type":"text","fontSize":17,"font":"DejaVu Sans","fontWeight":"bold","baseline":"top","dy":15},"encoding":{"text":{"field":"arrow"},"fill":{"field":"ear","type":"nominal","scale":{"domain":["A","B","K"],"range":["#3b3bb6","#e3302a","#000000"]},"legend":null}}}
]}
],
"resolve":{"scale":{"y":"independent"}}},

{"title":"LIJ-08","width":166,"height":112,"transform":[{"filter":"datum.panel==='LIJ-08'"}],
"layer":[
{"encoding":{"x":{"field":"visit","type":"quantitative","scale":{"domain":[1,7],"nice":false,"zero":false},"axis":{"values":[1,2,3,4,5,6,7],"title":"Visit"}},
"y":{"field":"pta","type":"quantitative","scale":{"domain":[0,40],"reverse":true,"nice":false,"zero":false},"axis":{"values":[0,10,20,30,40],"title":"PTA improvement (dB)"}}},
"layer":[
{"transform":[{"filter":"datum.kind==='ref'"}],"mark":{"type":"line","color":"#8c8c8c","strokeDash":[1.5,1.5],"strokeWidth":1}},
{"transform":[{"filter":"datum.kind==='pta' && datum.treated==='no'"}],"mark":{"type":"line","strokeDash":[2,1.5],"strokeWidth":1},"encoding":{"color":{"field":"ear","type":"nominal","scale":{"domain":["A","B"],"range":["#1f1fd2","#e3211d"]},"legend":null}}},
{"transform":[{"filter":"datum.kind==='pta' && datum.treated==='no'"}],"mark":{"type":"circle","size":8,"opacity":1},"encoding":{"color":{"field":"ear","type":"nominal","scale":{"domain":["A","B"],"range":["#1f1fd2","#e3211d"]},"legend":null}}},
{"transform":[{"filter":"datum.kind==='pta' && datum.treated==='yes'"}],"mark":{"type":"line","strokeWidth":1.5},"encoding":{"color":{"field":"ear","type":"nominal","scale":{"domain":["A","B"],"range":["#1f1fd2","#e3211d"]},"legend":null}}},
{"transform":[{"filter":"datum.kind==='pta' && datum.treated==='yes'"}],"mark":{"type":"point","filled":true,"opacity":1,"size":40},"encoding":{"color":{"field":"ear","type":"nominal","scale":{"domain":["A","B"],"range":["#1f1fd2","#e3211d"]},"legend":null},"shape":{"field":"ear","type":"nominal","scale":{"domain":["A","B"],"range":["square","circle"]},"legend":null}}},
{"transform":[{"filter":"datum.kind==='label'"}],"mark":{"type":"text","fontSize":12.5},"encoding":{"text":{"field":"text"},"fill":{"field":"ear","type":"nominal","scale":{"domain":["A","B","K"],"range":["#3b3bb6","#e3302a","#000000"]},"legend":null}}}
]},
{"encoding":{"x":{"field":"visit","type":"quantitative","scale":{"domain":[1,7],"nice":false,"zero":false},"axis":{"values":[1,2,3,4,5,6,7],"title":"Visit"}},
"y":{"field":"il","type":"quantitative","scale":{"domain":[0,35],"nice":false},"axis":{"orient":"right","values":[0,10,20,30],"title":"IL-1β (pg/ml)"}}},
"layer":[
{"transform":[{"filter":"datum.kind==='il'"}],"mark":{"type":"line","color":"#3cb43c","strokeDash":[3,2],"strokeWidth":1.2}},
{"transform":[{"filter":"datum.kind==='il'"}],"mark":{"type":"point","shape":"triangle-up","filled":true,"color":"#3cb43c","size":22,"opacity":1}},
{"transform":[{"filter":"datum.kind==='arrow' && datum.arrow==='↑'"}],"mark":{"type":"text","fontSize":15,"font":"DejaVu Sans","fontWeight":"bold","baseline":"top","dy":16},"encoding":{"text":{"field":"arrow"},"fill":{"field":"ear","type":"nominal","scale":{"domain":["A","B","K"],"range":["#3b3bb6","#e3302a","#000000"]},"legend":null}}},
{"transform":[{"filter":"datum.kind==='arrow' && datum.arrow==='↓'"}],"mark":{"type":"text","fontSize":17,"font":"DejaVu Sans","fontWeight":"bold","baseline":"top","dy":15},"encoding":{"text":{"field":"arrow"},"fill":{"field":"ear","type":"nominal","scale":{"domain":["A","B","K"],"range":["#3b3bb6","#e3302a","#000000"]},"legend":null}}}
]}
],
"resolve":{"scale":{"y":"independent"}}},

{"title":"LIJ-09","width":166,"height":112,"transform":[{"filter":"datum.panel==='LIJ-09'"}],
"layer":[
{"encoding":{"x":{"field":"visit","type":"quantitative","scale":{"domain":[1,7],"nice":false,"zero":false},"axis":{"values":[1,2,3,4,5,6,7],"title":"Visit"}},
"y":{"field":"pta","type":"quantitative","scale":{"domain":[80,120],"reverse":true,"nice":false,"zero":false},"axis":{"values":[80,90,100,110,120],"title":"PTA improvement (dB)"}}},
"layer":[
{"transform":[{"filter":"datum.kind==='ref'"}],"mark":{"type":"line","color":"#8c8c8c","strokeDash":[1.5,1.5],"strokeWidth":1}},
{"transform":[{"filter":"datum.kind==='pta' && datum.treated==='no'"}],"mark":{"type":"line","strokeDash":[2,1.5],"strokeWidth":1},"encoding":{"color":{"field":"ear","type":"nominal","scale":{"domain":["A","B"],"range":["#1f1fd2","#e3211d"]},"legend":null}}},
{"transform":[{"filter":"datum.kind==='pta' && datum.treated==='no'"}],"mark":{"type":"circle","size":8,"opacity":1},"encoding":{"color":{"field":"ear","type":"nominal","scale":{"domain":["A","B"],"range":["#1f1fd2","#e3211d"]},"legend":null}}},
{"transform":[{"filter":"datum.kind==='pta' && datum.treated==='yes'"}],"mark":{"type":"line","strokeWidth":1.5},"encoding":{"color":{"field":"ear","type":"nominal","scale":{"domain":["A","B"],"range":["#1f1fd2","#e3211d"]},"legend":null}}},
{"transform":[{"filter":"datum.kind==='pta' && datum.treated==='yes'"}],"mark":{"type":"point","filled":true,"opacity":1,"size":40},"encoding":{"color":{"field":"ear","type":"nominal","scale":{"domain":["A","B"],"range":["#1f1fd2","#e3211d"]},"legend":null},"shape":{"field":"ear","type":"nominal","scale":{"domain":["A","B"],"range":["square","circle"]},"legend":null}}},
{"transform":[{"filter":"datum.kind==='label'"}],"mark":{"type":"text","fontSize":12.5},"encoding":{"text":{"field":"text"},"fill":{"field":"ear","type":"nominal","scale":{"domain":["A","B","K"],"range":["#3b3bb6","#e3302a","#000000"]},"legend":null}}}
]},
{"encoding":{"x":{"field":"visit","type":"quantitative","scale":{"domain":[1,7],"nice":false,"zero":false},"axis":{"values":[1,2,3,4,5,6,7],"title":"Visit"}},
"y":{"field":"il","type":"quantitative","scale":{"domain":[0,40],"nice":false},"axis":{"orient":"right","values":[0,10,20,30,40],"title":"IL-1β (pg/ml)"}}},
"layer":[
{"transform":[{"filter":"datum.kind==='il'"}],"mark":{"type":"line","color":"#3cb43c","strokeDash":[3,2],"strokeWidth":1.2}},
{"transform":[{"filter":"datum.kind==='il'"}],"mark":{"type":"point","shape":"triangle-up","filled":true,"color":"#3cb43c","size":22,"opacity":1}},
{"transform":[{"filter":"datum.kind==='arrow' && datum.arrow==='↑'"}],"mark":{"type":"text","fontSize":15,"font":"DejaVu Sans","fontWeight":"bold","baseline":"top","dy":16},"encoding":{"text":{"field":"arrow"},"fill":{"field":"ear","type":"nominal","scale":{"domain":["A","B","K"],"range":["#3b3bb6","#e3302a","#000000"]},"legend":null}}},
{"transform":[{"filter":"datum.kind==='arrow' && datum.arrow==='↓'"}],"mark":{"type":"text","fontSize":17,"font":"DejaVu Sans","fontWeight":"bold","baseline":"top","dy":15},"encoding":{"text":{"field":"arrow"},"fill":{"field":"ear","type":"nominal","scale":{"domain":["A","B","K"],"range":["#3b3bb6","#e3302a","#000000"]},"legend":null}}}
]}
],
"resolve":{"scale":{"y":"independent"}}},

{"title":"LIJ-11","width":166,"height":112,"transform":[{"filter":"datum.panel==='LIJ-11'"}],
"layer":[
{"encoding":{"x":{"field":"visit","type":"quantitative","scale":{"domain":[1,7],"nice":false,"zero":false},"axis":{"values":[1,2,3,4,5,6,7],"title":"Visit"}},
"y":{"field":"pta","type":"quantitative","scale":{"domain":[0,80],"reverse":true,"nice":false,"zero":false},"axis":{"values":[0,20,40,60,80],"title":"PTA improvement (dB)"}}},
"layer":[
{"transform":[{"filter":"datum.kind==='ref'"}],"mark":{"type":"line","color":"#8c8c8c","strokeDash":[1.5,1.5],"strokeWidth":1}},
{"transform":[{"filter":"datum.kind==='pta' && datum.treated==='no'"}],"mark":{"type":"line","strokeDash":[2,1.5],"strokeWidth":1},"encoding":{"color":{"field":"ear","type":"nominal","scale":{"domain":["A","B"],"range":["#1f1fd2","#e3211d"]},"legend":null}}},
{"transform":[{"filter":"datum.kind==='pta' && datum.treated==='no'"}],"mark":{"type":"circle","size":8,"opacity":1},"encoding":{"color":{"field":"ear","type":"nominal","scale":{"domain":["A","B"],"range":["#1f1fd2","#e3211d"]},"legend":null}}},
{"transform":[{"filter":"datum.kind==='pta' && datum.treated==='yes'"}],"mark":{"type":"line","strokeWidth":1.5},"encoding":{"color":{"field":"ear","type":"nominal","scale":{"domain":["A","B"],"range":["#1f1fd2","#e3211d"]},"legend":null}}},
{"transform":[{"filter":"datum.kind==='pta' && datum.treated==='yes'"}],"mark":{"type":"point","filled":true,"opacity":1,"size":40},"encoding":{"color":{"field":"ear","type":"nominal","scale":{"domain":["A","B"],"range":["#1f1fd2","#e3211d"]},"legend":null},"shape":{"field":"ear","type":"nominal","scale":{"domain":["A","B"],"range":["square","circle"]},"legend":null}}},
{"transform":[{"filter":"datum.kind==='label'"}],"mark":{"type":"text","fontSize":12.5},"encoding":{"text":{"field":"text"},"fill":{"field":"ear","type":"nominal","scale":{"domain":["A","B","K"],"range":["#3b3bb6","#e3302a","#000000"]},"legend":null}}}
]},
{"encoding":{"x":{"field":"visit","type":"quantitative","scale":{"domain":[1,7],"nice":false,"zero":false},"axis":{"values":[1,2,3,4,5,6,7],"title":"Visit"}},
"y":{"field":"il","type":"quantitative","scale":{"domain":[0,3.5],"nice":false},"axis":{"orient":"right","values":[0,1,2,3],"title":"IL-1β (pg/ml)"}}},
"layer":[
{"transform":[{"filter":"datum.kind==='il'"}],"mark":{"type":"line","color":"#3cb43c","strokeDash":[3,2],"strokeWidth":1.2}},
{"transform":[{"filter":"datum.kind==='il'"}],"mark":{"type":"point","shape":"triangle-up","filled":true,"color":"#3cb43c","size":22,"opacity":1}},
{"transform":[{"filter":"datum.kind==='arrow' && datum.arrow==='↑'"}],"mark":{"type":"text","fontSize":15,"font":"DejaVu Sans","fontWeight":"bold","baseline":"top","dy":16},"encoding":{"text":{"field":"arrow"},"fill":{"field":"ear","type":"nominal","scale":{"domain":["A","B","K"],"range":["#3b3bb6","#e3302a","#000000"]},"legend":null}}},
{"transform":[{"filter":"datum.kind==='arrow' && datum.arrow==='↓'"}],"mark":{"type":"text","fontSize":17,"font":"DejaVu Sans","fontWeight":"bold","baseline":"top","dy":15},"encoding":{"text":{"field":"arrow"},"fill":{"field":"ear","type":"nominal","scale":{"domain":["A","B","K"],"range":["#3b3bb6","#e3302a","#000000"]},"legend":null}}}
]}
],
"resolve":{"scale":{"y":"independent"}}},

{"title":"LIJ-12","width":166,"height":112,"transform":[{"filter":"datum.panel==='LIJ-12'"}],
"layer":[
{"encoding":{"x":{"field":"visit","type":"quantitative","scale":{"domain":[1,7],"nice":false,"zero":false},"axis":{"values":[1,2,3,4,5,6,7],"title":"Visit"}},
"y":{"field":"pta","type":"quantitative","scale":{"domain":[0,50],"reverse":true,"nice":false,"zero":false},"axis":{"values":[0,10,20,30,40,50],"title":"PTA improvement (dB)"}}},
"layer":[
{"transform":[{"filter":"datum.kind==='ref'"}],"mark":{"type":"line","color":"#8c8c8c","strokeDash":[1.5,1.5],"strokeWidth":1}},
{"transform":[{"filter":"datum.kind==='pta' && datum.treated==='no'"}],"mark":{"type":"line","strokeDash":[2,1.5],"strokeWidth":1},"encoding":{"color":{"field":"ear","type":"nominal","scale":{"domain":["A","B"],"range":["#1f1fd2","#e3211d"]},"legend":null}}},
{"transform":[{"filter":"datum.kind==='pta' && datum.treated==='no'"}],"mark":{"type":"circle","size":8,"opacity":1},"encoding":{"color":{"field":"ear","type":"nominal","scale":{"domain":["A","B"],"range":["#1f1fd2","#e3211d"]},"legend":null}}},
{"transform":[{"filter":"datum.kind==='pta' && datum.treated==='yes'"}],"mark":{"type":"line","strokeWidth":1.5},"encoding":{"color":{"field":"ear","type":"nominal","scale":{"domain":["A","B"],"range":["#1f1fd2","#e3211d"]},"legend":null}}},
{"transform":[{"filter":"datum.kind==='pta' && datum.treated==='yes'"}],"mark":{"type":"point","filled":true,"opacity":1,"size":40},"encoding":{"color":{"field":"ear","type":"nominal","scale":{"domain":["A","B"],"range":["#1f1fd2","#e3211d"]},"legend":null},"shape":{"field":"ear","type":"nominal","scale":{"domain":["A","B"],"range":["square","circle"]},"legend":null}}},
{"transform":[{"filter":"datum.kind==='label'"}],"mark":{"type":"text","fontSize":12.5},"encoding":{"text":{"field":"text"},"fill":{"field":"ear","type":"nominal","scale":{"domain":["A","B","K"],"range":["#3b3bb6","#e3302a","#000000"]},"legend":null}}}
]},
{"encoding":{"x":{"field":"visit","type":"quantitative","scale":{"domain":[1,7],"nice":false,"zero":false},"axis":{"values":[1,2,3,4,5,6,7],"title":"Visit"}},
"y":{"field":"il","type":"quantitative","scale":{"domain":[0,8],"nice":false},"axis":{"orient":"right","values":[0,2,4,6,8],"title":"IL-1β (pg/ml)"}}},
"layer":[
{"transform":[{"filter":"datum.kind==='il'"}],"mark":{"type":"line","color":"#3cb43c","strokeDash":[3,2],"strokeWidth":1.2}},
{"transform":[{"filter":"datum.kind==='il'"}],"mark":{"type":"point","shape":"triangle-up","filled":true,"color":"#3cb43c","size":22,"opacity":1}},
{"transform":[{"filter":"datum.kind==='arrow' && datum.arrow==='↑'"}],"mark":{"type":"text","fontSize":15,"font":"DejaVu Sans","fontWeight":"bold","baseline":"top","dy":16},"encoding":{"text":{"field":"arrow"},"fill":{"field":"ear","type":"nominal","scale":{"domain":["A","B","K"],"range":["#3b3bb6","#e3302a","#000000"]},"legend":null}}},
{"transform":[{"filter":"datum.kind==='arrow' && datum.arrow==='↓'"}],"mark":{"type":"text","fontSize":17,"font":"DejaVu Sans","fontWeight":"bold","baseline":"top","dy":15},"encoding":{"text":{"field":"arrow"},"fill":{"field":"ear","type":"nominal","scale":{"domain":["A","B","K"],"range":["#3b3bb6","#e3302a","#000000"]},"legend":null}}}
]}
],
"resolve":{"scale":{"y":"independent"}}}
],
"config":{
"font":"Liberation Sans",
"view":{"stroke":null},
"axis":{"grid":false,"domainColor":"#000000","domainWidth":1.6,"tickColor":"#000000","tickWidth":1.6,"tickSize":4,"labelFont":"Liberation Sans","labelFontWeight":"bold","labelFontSize":11,"labelColor":"#000000","labelPadding":2,"labelFlush":false,"labelOverlap":false,"titleFont":"Liberation Sans","titleFontWeight":"normal","titleFontSize":12,"titleColor":"#000000"},
"axisX":{"titlePadding":20,"labelPadding":1},
"title":{"font":"Liberation Sans","fontSize":12.5,"fontWeight":"normal","color":"#000000","offset":8,"frame":"group","anchor":"middle"}
}
}
